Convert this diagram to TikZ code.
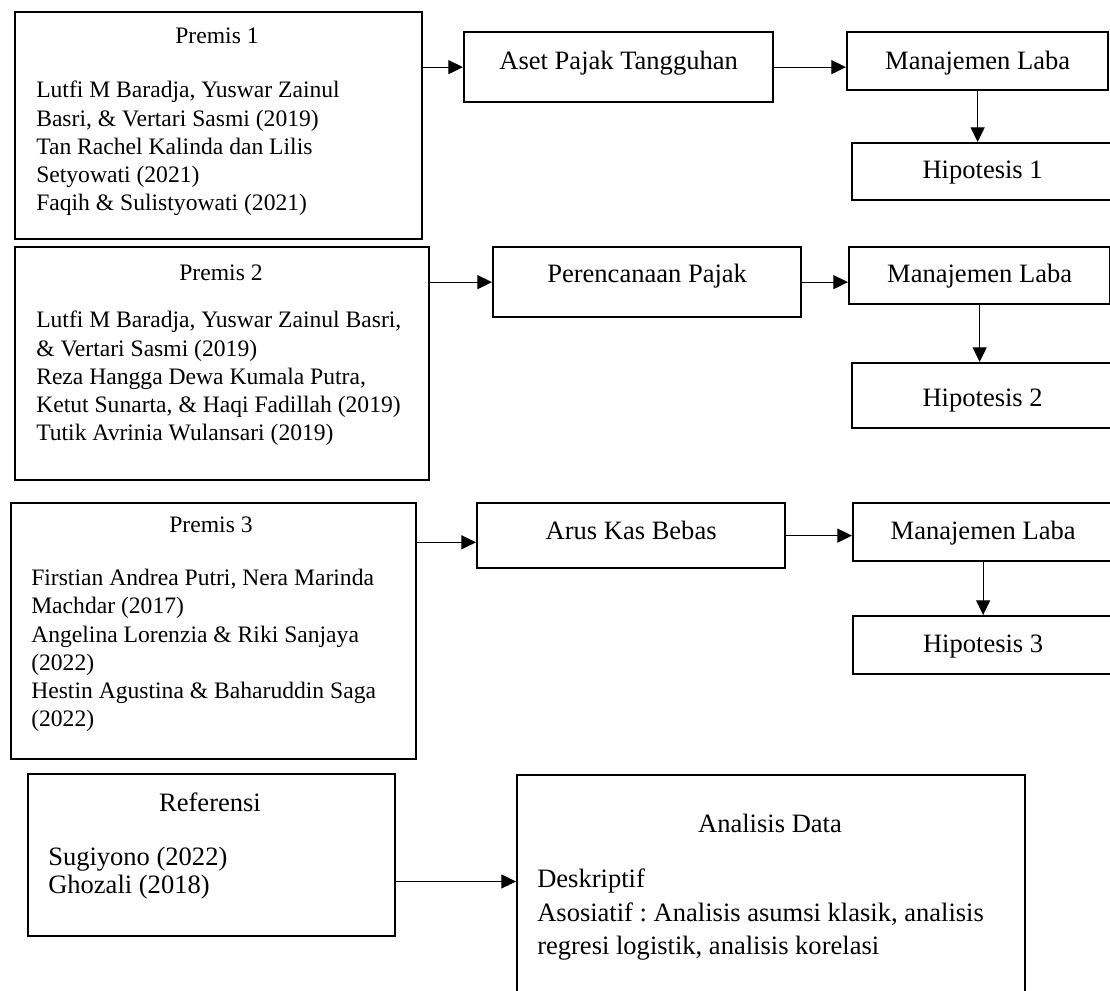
\documentclass[tikz,border=0pt]{standalone}
\usepackage{fontspec}
\setmainfont{Liberation Serif}
\usetikzlibrary{arrows.meta}
\usetikzlibrary{positioning}

\tikzset{
  kotak/.style={draw, line width=1.7pt, anchor=north west, inner sep=0pt, text depth=0pt, font=\fontsize{19.9}{21.2}\selectfont},
  judul/.style={anchor=base, inner sep=0pt, font=\fontsize{17.7}{21.2}\selectfont},
  isi/.style={anchor=north west, inner sep=0pt, align=left, font=\fontsize{17.7}{21.2}\selectfont},
  besar/.style={font=\fontsize{19.9}{21.2}\selectfont},
  panah/.style={-{Triangle[length=11pt,width=10.5pt]}, line width=0.9pt}
}

\begin{document}
\frenchspacing
\begin{tikzpicture}[x=0.75pt, y=-0.75pt]
\useasboundingbox (0,0) rectangle (1110,990);

\node[kotak, minimum width=305.25pt, minimum height=170.25pt] (p1) at (14,11) {};
\node[judul] (p1j) at (217,43) {Premis 1};
\node[isi] (p1i) at (36,81) {Lutfi M Baradja, Yuswar Zainul\\Basri, \& Vertari Sasmi (2019)\\Tan Rachel Kalinda dan Lilis\\Setyowati (2021)\\Faqih \& Sulistyowati (2021)};
\node[kotak, minimum width=231.75pt, minimum height=52.5pt, text height=3pt] (a1) at (463,31) {Aset Pajak Tangguhan};
\node[kotak, minimum width=195.75pt, minimum height=43.5pt, text height=12pt] (m1) at (846,31) {Manajemen Laba};
\node[kotak, minimum width=195.75pt, minimum height=42.75pt, text height=9.75pt] (h1) at (851,142) {Hipotesis 1};
\draw[panah] (p1.east |- a1.west) -- (a1.west);
\draw[panah] (a1.east) -- (a1.east -| m1.west);
\draw[panah] (m1.south) -- (m1.south |- h1.north);

\node[kotak, minimum width=310.5pt, minimum height=174.75pt] (p2) at (14,246) {};
\node[judul] (p2j) at (221,280) {Premis 2};
\node[isi] (p2i) at (36,311) {Lutfi M Baradja, Yuswar Zainul Basri,\\\& Vertari Sasmi (2019)\\Reza Hangga Dewa Kumala Putra,\\Ketut Sunarta, \& Haqi Fadillah (2019)\\Tutik Avrinia Wulansari (2019)};
\node[kotak, minimum width=231pt, minimum height=52.5pt, text height=0pt] (a2) at (492,246) {Perencanaan Pajak};
\node[kotak, minimum width=195.75pt, minimum height=42.75pt, text height=9.75pt] (m2) at (848,246) {Manajemen Laba};
\node[kotak, minimum width=195.75pt, minimum height=48.75pt, text height=17pt] (h2) at (851,362) {Hipotesis 2};
\draw[panah] (p2.east |- a2.west) -- (a2.west);
\draw[panah] (a2.east) -- (a2.east -| m2.west);
\draw[panah] (m2.south) -- (m2.south |- h2.north);

\node[kotak, minimum width=303.75pt, minimum height=192pt] (p3) at (10,502) {};
\node[judul] (p3j) at (211,532) {Premis 3};
\node[isi] (p3i) at (31,569) {Firstian Andrea Putri, Nera Marinda\\Machdar (2017)\\Angelina Lorenzia \& Riki Sanjaya\\(2022)\\Hestin Agustina \& Baharuddin Saga\\(2022)};
\node[kotak, minimum width=231pt, minimum height=48.75pt, text height=5.25pt] (a3) at (476,502) {Arus Kas Bebas};
\node[kotak, minimum width=195pt, minimum height=43.5pt, text height=10.5pt] (m3) at (852,502) {Manajemen Laba};
\node[kotak, minimum width=195pt, minimum height=43.5pt, text height=10.5pt] (h3) at (852,615) {Hipotesis 3};
\draw[panah] ([yshift=-5pt]a3.west -| p3.east) -- ([yshift=-5pt]a3.west);
\draw[panah] (a3.east) -- (a3.east -| m3.west);
\draw[panah] (m3.south) -- (m3.south |- h3.north);

\node[kotak, minimum width=275.25pt, minimum height=121.5pt] (r4) at (27,773) {};
\node[judul, besar] (r4j) at (210,811) {Referensi};
\node[isi, besar] (r4i) at (48,847) {Sugiyono (2022)\\Ghozali (2018)};
\node[kotak, minimum width=381pt, minimum height=169.5pt] (an) at (516,774) {};
\node[judul, besar] (anj) at (770,832) {Analisis Data};
\node[isi, font=\fontsize{19.9}{25}\selectfont] (ani) at (537,869) {Deskriptif\\Asosiatif : Analisis asumsi klasik, analisis\\regresi logistik, analisis korelasi};
\draw[panah] ([yshift=5pt]an.west -| r4.east) -- ([yshift=5pt]an.west);
\end{tikzpicture}
\end{document}
